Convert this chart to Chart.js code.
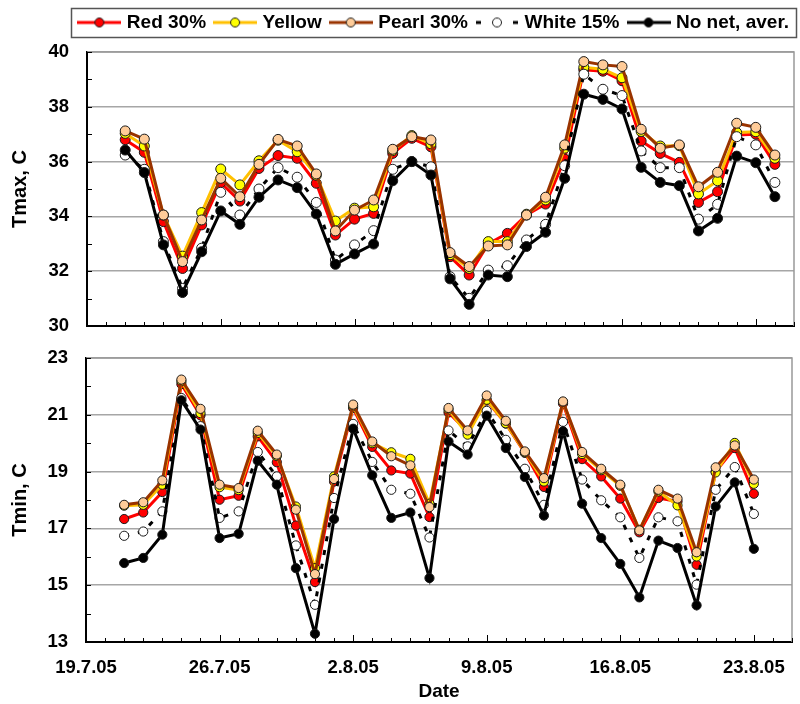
<!DOCTYPE html>
<html>
<head>
<meta charset="utf-8">
<script src="https://cdn.jsdelivr.net/npm/chart.js@4.4.1/dist/chart.umd.min.js"></script>
<style>
  html, body { margin: 0; padding: 0; background: #fff; }
  #wrap { position: relative; width: 800px; height: 704px; }
  #cMax { position: absolute; left: 0; top: 0; }
  #cMin { position: absolute; left: 0; top: 340px; }
</style>
</head>
<body>
<div id="wrap">
  <canvas id="cMax" width="800" height="340"></canvas>
  <canvas id="cMin" width="800" height="364"></canvas>
</div>
<script>
// Observation dates (d.m.yy); the axis starts at axisStart
const axisStart = '19.7.05';
const axisDays = 37;
const dates = ['21.7.05','22.7.05','23.7.05','24.7.05','25.7.05','26.7.05','27.7.05','28.7.05',
  '29.7.05','30.7.05','31.7.05','1.8.05','2.8.05','3.8.05','4.8.05','5.8.05','6.8.05','7.8.05',
  '8.8.05','9.8.05','10.8.05','11.8.05','12.8.05','13.8.05','14.8.05','15.8.05','16.8.05',
  '17.8.05','18.8.05','19.8.05','20.8.05','21.8.05','22.8.05','23.8.05','24.8.05'];

const seriesNames = ['Red 30%', 'Yellow', 'Pearl 30%', 'White 15%', 'No net, aver.'];

// Daily maximum temperature, C
const tmaxRed    = [36.80, 36.34, 33.81, 32.10, 33.69, 35.23, 34.56, 35.75, 36.22, 36.12, 35.21, 33.32, 33.90, 34.11, 36.30, 36.85, 36.54, 32.53, 31.86, 33.00, 33.38, 34.05, 34.45, 36.09, 39.35, 39.30, 38.95, 36.75, 36.30, 35.97, 34.51, 34.90, 36.97, 37.00, 35.90];
const tmaxYellow = [37.03, 36.57, 34.05, 32.55, 34.14, 35.73, 35.15, 36.03, 36.78, 36.36, 35.50, 33.83, 34.30, 34.35, 36.40, 36.95, 36.65, 32.60, 32.10, 33.08, 33.08, 34.08, 34.60, 36.49, 39.44, 39.37, 39.06, 37.10, 36.57, 36.58, 34.82, 35.30, 37.06, 37.09, 36.12];
const tmaxPearl  = [37.12, 36.82, 34.05, 32.35, 33.87, 35.39, 34.72, 35.90, 36.81, 36.57, 35.55, 33.47, 34.23, 34.60, 36.45, 36.91, 36.79, 32.68, 32.17, 32.92, 32.96, 34.05, 34.70, 36.61, 39.65, 39.53, 39.47, 37.18, 36.49, 36.61, 35.08, 35.61, 37.40, 37.25, 36.24];
const tmaxWhite  = [36.24, 35.72, 33.08, 31.37, 32.84, 34.88, 34.05, 35.00, 35.78, 35.43, 34.51, 32.41, 32.96, 33.48, 35.72, 36.00, 35.81, 31.80, 31.01, 32.04, 32.20, 33.14, 33.71, 35.85, 39.19, 38.64, 38.41, 36.39, 35.78, 35.78, 33.90, 34.44, 36.91, 36.61, 35.24];
const tmaxNoNet  = [36.42, 35.60, 32.96, 31.22, 32.71, 34.20, 33.71, 34.70, 35.33, 35.05, 34.09, 32.25, 32.63, 32.99, 35.30, 36.00, 35.51, 31.72, 30.79, 31.86, 31.80, 32.90, 33.42, 35.39, 38.46, 38.27, 37.92, 35.79, 35.24, 35.12, 33.47, 33.93, 36.20, 35.96, 34.72];

// Daily minimum temperature, C (through 23.8.05)
const tminRed    = [17.33, 17.56, 18.28, 22.08, 20.98, 18.01, 18.15, 20.24, 19.33, 17.10, 15.11, 18.65, 21.24, 19.87, 19.04, 18.93, 17.40, 21.08, 20.40, 21.50, 20.69, 19.66, 18.46, 21.40, 19.44, 18.83, 18.05, 16.86, 18.07, 17.95, 15.72, 19.00, 19.83, 18.22];
const tminYellow = [17.80, 17.83, 18.54, 22.18, 21.06, 18.45, 18.35, 20.36, 19.55, 17.77, 15.60, 18.83, 21.30, 20.00, 19.68, 19.45, 17.87, 21.18, 20.30, 21.53, 20.70, 19.68, 18.65, 21.45, 19.62, 19.05, 18.50, 16.95, 18.30, 17.81, 16.01, 18.97, 20.01, 18.57];
const tminPearl  = [17.83, 17.92, 18.69, 22.24, 21.21, 18.54, 18.42, 20.44, 19.60, 17.66, 15.39, 18.74, 21.36, 20.06, 19.54, 19.22, 17.75, 21.24, 20.45, 21.68, 20.79, 19.71, 18.77, 21.47, 19.69, 19.10, 18.54, 16.93, 18.36, 18.05, 16.16, 19.15, 19.92, 18.72];
const tminWhite  = [16.74, 16.89, 17.60, 21.59, 20.60, 17.37, 17.60, 19.69, 18.83, 16.40, 14.31, 18.07, 20.68, 19.34, 18.36, 18.22, 16.68, 20.45, 19.89, 21.14, 20.12, 19.10, 17.83, 20.75, 18.72, 17.99, 17.39, 15.96, 17.39, 17.25, 15.02, 18.36, 19.16, 17.51];
const tminNoNet  = [15.78, 15.96, 16.78, 21.51, 20.48, 16.66, 16.81, 19.38, 18.54, 15.60, 13.29, 17.33, 20.51, 18.87, 17.37, 17.56, 15.25, 20.06, 19.60, 20.97, 19.83, 18.81, 17.45, 20.42, 17.87, 16.66, 15.75, 14.57, 16.57, 16.31, 14.29, 17.77, 18.62, 16.28];

// Series appearance: line colour, marker fill, dashed line
const styles = [
  { line: '#FF0000', fill: '#FF0000', dash: [] },
  { line: '#FFC000', fill: '#FFFF00', dash: [] },
  { line: '#993300', fill: '#FFCC99', dash: [] },
  { line: '#000000', fill: '#FFFFFF', dash: [5, 9] },
  { line: '#000000', fill: '#000000', dash: [] }
];

Chart.defaults.font.family = "'Liberation Sans', Arial, sans-serif";
Chart.defaults.font.weight = 'bold';
Chart.defaults.color = '#000';

function parseDate(s) {
  const [d, m, y] = s.split('.').map(Number);
  return new Date(2000 + y, m - 1, d);
}
const t0 = parseDate(axisStart);
const dayOf = s => Math.round((parseDate(s) - t0) / 86400000);
function dayLabel(v) {
  const d = new Date(t0.getFullYear(), t0.getMonth(), t0.getDate() + v);
  return d.getDate() + '.' + (d.getMonth() + 1) + '.' + String(d.getFullYear()).slice(2);
}

function makeDatasets(valueLists, radius) {
  return valueLists.map((vals, i) => ({
    label: seriesNames[i],
    data: vals.map((v, k) => ({ x: dayOf(dates[k]), y: v })),
    xAxisID: 'x',
    yAxisID: 'y',
    borderColor: styles[i].line,
    borderWidth: 3,
    borderDash: styles[i].dash,
    pointRadius: radius,
    pointBorderWidth: 1,
    pointBorderColor: '#1a1a1a',
    pointBackgroundColor: styles[i].fill,
    tension: 0,
    order: valueLists.length - i
  }));
}

function legendSymbol(st) {
  const c = document.createElement('canvas');
  c.width = 44; c.height = 14;
  const g = c.getContext('2d');
  g.strokeStyle = st.line; g.lineWidth = 3;
  g.beginPath();
  if (st.dash.length) { g.moveTo(1, 7); g.lineTo(6, 7); g.moveTo(38, 7); g.lineTo(43, 7); }
  else { g.moveTo(0, 7); g.lineTo(44, 7); }
  g.stroke();
  g.beginPath(); g.arc(22, 7, 4.5, 0, Math.PI * 2);
  g.fillStyle = st.fill; g.fill();
  g.lineWidth = 1; g.strokeStyle = '#1a1a1a'; g.stroke();
  return c;
}

// Keep the plot area exactly where the layout padding puts it
function noOverflow(s) { s.paddingLeft = 0; s.paddingRight = 0; s.paddingTop = 0; s.paddingBottom = 0; }

// Grey frame on top/right, day ticks on the bottom axis and degree ticks on the left axis, drawn inward
const frameAndTicks = {
  id: 'frameAndTicks',
  beforeDatasetsDraw(chart) {
    const { ctx, chartArea: a } = chart;
    const x = chart.scales.x, y = chart.scales.y;
    ctx.save();
    ctx.strokeStyle = '#999999';
    ctx.lineWidth = 1.5;
    ctx.beginPath();
    ctx.moveTo(a.left, a.top); ctx.lineTo(a.right, a.top); ctx.lineTo(a.right, a.bottom);
    ctx.stroke();
    ctx.strokeStyle = '#000';
    ctx.lineWidth = 1;
    ctx.beginPath();
    for (let v = y.min; v <= y.max; v++) {
      const py = Math.round(y.getPixelForValue(v)) + 0.5;
      ctx.moveTo(a.left, py); ctx.lineTo(a.left + 5, py);
    }
    for (let d = x.min; d <= x.max; d++) {
      const px = Math.round(x.getPixelForValue(d)) + 0.5;
      const len = d % 7 === 0 ? 7 : 4;
      ctx.moveTo(px, a.bottom); ctx.lineTo(px, a.bottom - len);
    }
    ctx.stroke();
    ctx.restore();
  }
};

// Frame around the legend row
const legendFrame = {
  id: 'legendFrame',
  afterDraw(chart) {
    const lg = chart.legend;
    if (!lg || !lg.legendHitBoxes || !lg.legendHitBoxes.length) return;
    const hb = lg.legendHitBoxes;
    const left = Math.round(hb[0].left - 10);
    const right = Math.round(hb[hb.length - 1].left + hb[hb.length - 1].width + 7);
    const top = Math.round(hb[0].top - 5);
    const ctx = chart.ctx;
    ctx.save();
    ctx.strokeStyle = '#555';
    ctx.lineWidth = 1.5;
    ctx.strokeRect(left + 0.5, top + 0.5, right - left, 29);
    ctx.restore();
  }
};

const tickFont = { size: 18.5, weight: 'bold' };

function yScale(min, max, title, width) {
  return {
    type: 'linear', position: 'left', min, max,
    ticks: { stepSize: 2, padding: 18, font: tickFont, color: '#000' },
    grid: { color: '#A6A6A6', lineWidth: 1.5, drawTicks: false },
    border: { color: '#000', width: 2 },
    title: { display: true, text: title, font: { size: 20, weight: 'bold' }, color: '#000', padding: { top: 8, bottom: 0 } },
    afterFit(s) { s.width = width; noOverflow(s); }
  };
}

function spacer(position, size) {
  const horizontal = position === 'top' || position === 'bottom';
  return {
    type: 'linear', position, min: 0, max: 1,
    ticks: { display: false },
    grid: { display: false, drawTicks: false },
    border: { display: false },
    afterFit(s) { if (horizontal) s.height = size; else s.width = size; noOverflow(s); }
  };
}

// Tmax panel with legend
new Chart(document.getElementById('cMax'), {
  type: 'line',
  data: { datasets: makeDatasets([tmaxRed, tmaxYellow, tmaxPearl, tmaxWhite, tmaxNoNet], 5) },
  options: {
    responsive: false, animation: false, events: [],
    layout: { padding: { top: 2, left: 0, right: 0, bottom: 14 } },
    plugins: {
      tooltip: { enabled: false },
      legend: {
        position: 'top', align: 'end',
        labels: {
          usePointStyle: true, pointStyleWidth: 36, padding: 11,
          font: { size: 19, weight: 'bold' }, color: '#000',
          generateLabels(chart) {
            return chart.data.datasets.map((ds, i) => ({
              text: ds.label, datasetIndex: i, hidden: false,
              pointStyle: legendSymbol(styles[i]),
              fillStyle: styles[i].fill, strokeStyle: styles[i].line, lineWidth: 0
            }));
          }
        }
      }
    },
    scales: {
      x: {
        type: 'linear', position: 'bottom', min: 0, max: axisDays,
        ticks: { display: false, stepSize: 7 },
        grid: { display: false, drawTicks: false },
        border: { color: '#000', width: 2 },
        afterFit(s) { s.height = 0; noOverflow(s); }
      },
      y: yScale(30, 40, 'Tmax, C', 87),
      xTop: spacer('top', 10),
      yRight: spacer('right', 5)
    }
  },
  plugins: [frameAndTicks, legendFrame]
});

// Tmin panel with the date axis
new Chart(document.getElementById('cMin'), {
  type: 'line',
  data: { datasets: makeDatasets([tminRed, tminYellow, tminPearl, tminWhite, tminNoNet], 4.6) },
  options: {
    responsive: false, animation: false, events: [],
    layout: { padding: { top: 18, left: 0, right: 8, bottom: 0 } },
    plugins: { tooltip: { enabled: false }, legend: { display: false } },
    scales: {
      x: {
        type: 'linear', position: 'bottom', min: 0, max: axisDays,
        ticks: {
          stepSize: 7, includeBounds: false, autoSkip: false, maxRotation: 0,
          padding: 15, font: tickFont, color: '#000',
          callback: v => dayLabel(v)
        },
        grid: { display: false, drawTicks: false },
        border: { color: '#000', width: 2 },
        title: { display: true, text: 'Date', font: { size: 19, weight: 'bold' }, color: '#000', padding: { top: 0, bottom: 1 } },
        afterFit(s) { s.height = 62; noOverflow(s); }
      },
      y: yScale(13, 23, 'Tmin, C', 86)
    }
  },
  plugins: [frameAndTicks]
});
</script>
</body>
</html>
